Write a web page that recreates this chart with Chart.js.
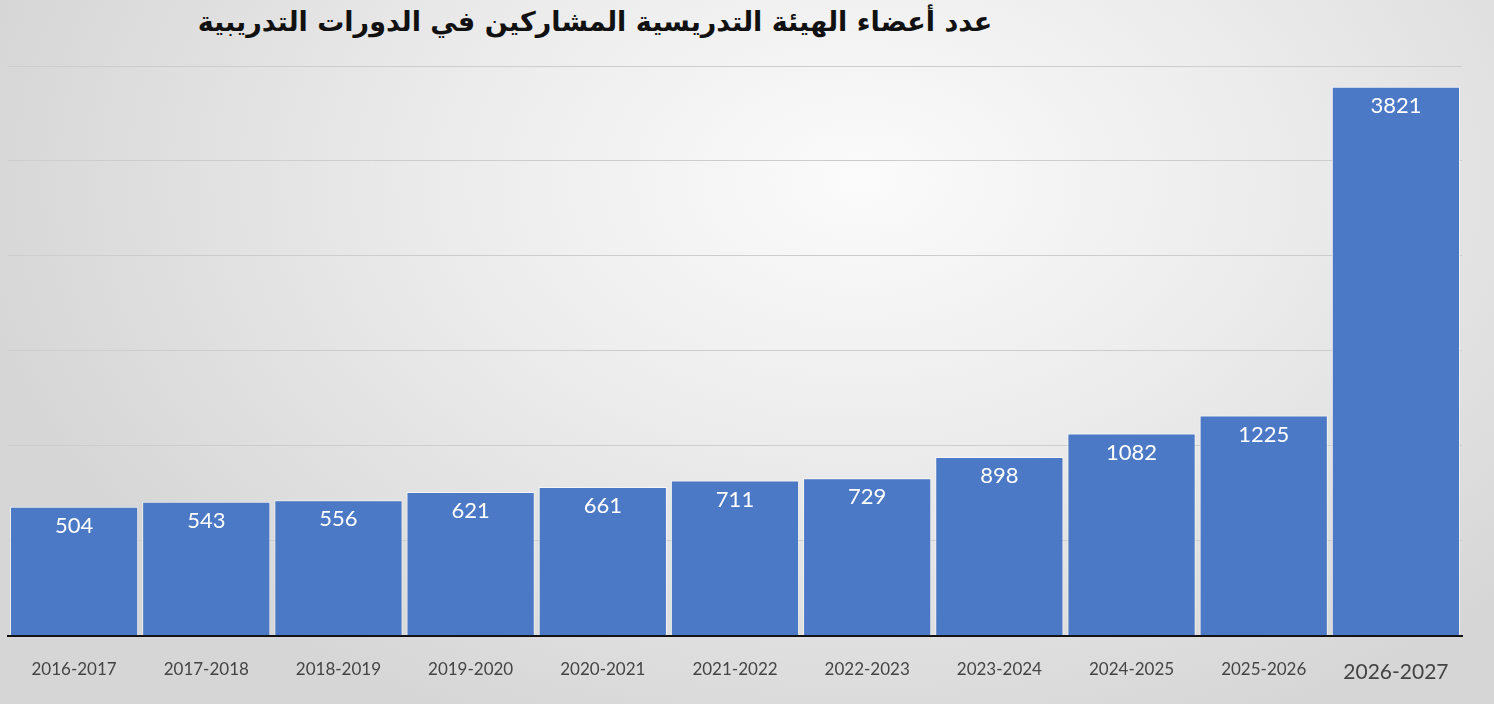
<!DOCTYPE html>
<html lang="ar">
<head>
<meta charset="utf-8">
<script src="https://cdn.jsdelivr.net/npm/chart.js@4.4.1/dist/chart.umd.min.js"></script>
<style>
    html, body {
        margin: 0;
        padding: 0;
        width: 1494px;
        height: 704px;
        overflow: hidden;
        background: radial-gradient(ellipse 900px 600px at 860px 180px, #fbfbfb 0%, #ececec 45%, #d6d6d6 100%);
    }
    #titre {
        position: absolute;
        left: 0;
        width: 1190px;
        top: 6px;
        margin: 0;
        text-align: center;
        font-family: "DejaVu Sans", sans-serif;
        font-weight: bold;
        font-size: 27px;
        color: #111;
        direction: rtl;
    }
    #zone {
        position: absolute;
        left: 0;
        top: 0;
        width: 1494px;
        height: 704px;
    }
</style>
</head>
<body>
<h1 id="titre">عدد أعضاء الهيئة التدريسية المشاركين في الدورات التدريبية</h1>
<div id="zone"><canvas id="participantsChart"></canvas></div>
<script>
// --- données ---
const annees = ['2016-2017', '2017-2018', '2018-2019', '2019-2020', '2020-2021', '2021-2022',
    '2022-2023', '2023-2024', '2024-2025', '2025-2026', '2026-2027'];
const participants = [504, 543, 556, 621, 661, 711, 729, 898, 1082, 1225, 3821];
const axeMin = -515;
const axeMax = 3985;
const axePas = 750;

document.addEventListener('DOMContentLoaded', () => {
    // --- étiquettes blanches dans les barres ---
    const etiquettes = {
        id: 'etiquettes',
        afterDatasetsDraw(chart) {
            const ctx = chart.ctx;
            const meta = chart.getDatasetMeta(0);
            ctx.save();
            ctx.fillStyle = '#ffffff';
            ctx.font = '22px Lato, "Open Sans", sans-serif';
            ctx.textAlign = 'center';
            ctx.textBaseline = 'middle';
            meta.data.forEach((barre, i) => {
                ctx.fillText(String(participants[i]), barre.x, barre.y + 19);
            });
            ctx.restore();
        }
    };

    const ctx = document.getElementById('participantsChart').getContext('2d');
    new Chart(ctx, {
        type: 'bar',
        data: {
            labels: annees,
            datasets: [{
                label: 'عدد المشاركين',
                data: participants,
                base: axeMin,
                backgroundColor: '#4c79c5',
                borderColor: 'rgba(255,255,255,0.6)',
                borderWidth: 1,
                barPercentage: 0.97,
                categoryPercentage: 1
            }]
        },
        options: {
            responsive: true,
            maintainAspectRatio: false,
            animation: false,
            layout: {
                padding: { left: 8, right: 32, top: 66, bottom: 3 }
            },
            scales: {
                y: {
                    min: axeMin,
                    max: axeMax,
                    ticks: { display: false, stepSize: axePas },
                    grid: { color: '#cdcdcd', lineWidth: 1, drawTicks: false },
                    border: { display: false }
                },
                x: {
                    grid: { display: false },
                    border: { color: '#111', width: 2 },
                    ticks: {
                        color: '#444',
                        padding: 16,
                        font: (c) => ({
                            family: 'Lato, "Open Sans", sans-serif',
                            size: c.index === annees.length - 1 ? 21 : 17
                        })
                    }
                }
            },
            plugins: {
                legend: { display: false },
                tooltip: { enabled: false }
            }
        },
        plugins: [etiquettes]
    });
});
</script>
</body>
</html>
